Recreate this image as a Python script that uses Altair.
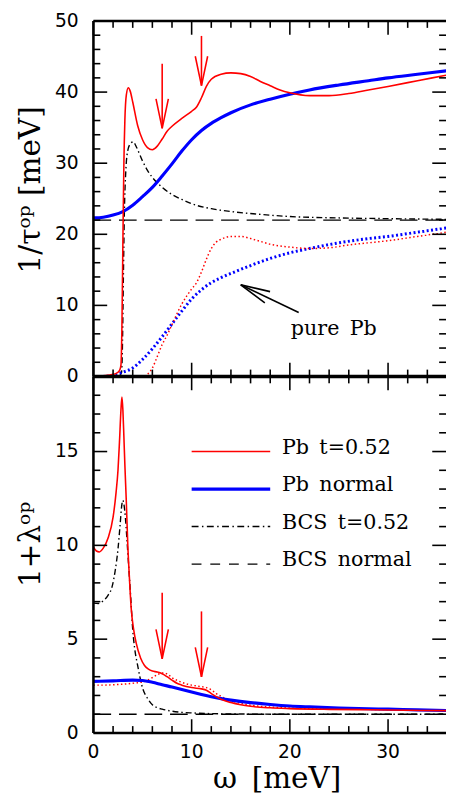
import altair as alt
import pandas as pd

# ---------------- data ----------------
# top panel: 1/tau^op [meV]
tau_pb_sc_w = [0, 1, 2, 2.5, 2.7, 2.8, 2.9, 3.0, 3.1, 3.2, 3.35, 3.55, 3.75, 4.0, 4.5, 5.0, 5.5, 6.0, 6.5, 7.0,
               7.5, 8, 9, 10, 10.5, 11, 11.5, 12, 13, 14, 15, 16, 17, 18, 19, 20, 22, 24, 26, 28, 30, 33, 36]
tau_pb_sc = [0.0, 0.1, 0.3, 0.6, 1.0, 1.6, 7, 19, 30, 36, 39.6, 40.6, 40.1, 38.6, 35.3, 33.3, 32.2, 31.9, 32.4, 33.4,
             34.5, 35.2, 36.3, 37.3, 37.9, 39.2, 40.8, 41.8, 42.5, 42.7, 42.6, 42.2, 41.5, 40.9, 40.3, 39.9, 39.5, 39.5,
             39.8, 40.3, 40.8, 41.6, 42.4]

tau_pb_n_w = [0, 1, 2, 3, 4, 5, 6, 7, 8, 9, 10, 11, 12, 13, 14, 16, 18, 20, 22, 25, 28, 30, 33, 36]
tau_pb_n = [22.3, 22.4, 22.7, 23.2, 24.1, 25.3, 26.6, 28.2, 29.9, 31.7, 33.3, 34.6, 35.6, 36.4, 37.1, 38.2, 39.0,
            39.7, 40.3, 41.0, 41.6, 42.0, 42.5, 43.0]

tau_bcs_sc_w = [0, 2.5, 2.85, 2.95, 3.05, 3.15, 3.3, 3.5, 3.8, 4.05, 4.4, 5, 5.5, 6, 7, 8, 9, 10, 12, 14, 17, 20,
                25, 30, 36]
tau_bcs_sc = [0, 0, 0.5, 4, 14, 23, 29, 31.8, 32.8, 33.0, 32.2, 30.3, 29.0, 28.0, 26.6, 25.6, 24.9, 24.3, 23.6,
              23.2, 22.8, 22.5, 22.3, 22.2, 22.1]

tau_bcs_n_w = [0, 36]
tau_bcs_n = [22, 22]

tau_pure_sc_w = [0, 5, 5.5, 6, 6.5, 7, 7.5, 8, 9, 10, 10.5, 11, 11.5, 12, 12.5, 13, 14, 15, 16, 17, 18, 20, 22, 24,
                 26, 28, 30, 33, 36]
tau_pure_sc = [0, 0, 0.3, 1.2, 2.8, 4.5, 5.8, 7.3, 10.2, 12.3, 13.2, 14.7, 16.5, 18.0, 18.9, 19.3, 19.7, 19.7, 19.4,
               19.0, 18.6, 18.2, 18.0, 18.1, 18.5, 18.8, 19.1, 19.7, 20.3]

tau_pure_n_w = [0, 1, 2, 3, 4, 5, 6, 7, 8, 9, 10, 11, 12, 13, 14, 16, 18, 20, 22, 25, 28, 30, 33, 36]
tau_pure_n = [0, 0.02, 0.2, 0.6, 1.2, 2.4, 3.9, 5.6, 7.4, 9.2, 10.9, 12.2, 13.2, 13.9, 14.5, 15.6, 16.6, 17.4, 18.0,
              18.8, 19.4, 19.7, 20.3, 20.9]

# bottom panel: 1 + lambda^op
lam_pb_sc_w = [0, 0.3, 0.6, 1, 1.5, 2, 2.3, 2.5, 2.65, 2.8, 2.9, 3.0, 3.1, 3.2, 3.35, 3.5, 3.65, 3.85, 4.1, 4.35,
               4.8, 5.2, 5.6, 6, 6.5, 7, 7.5, 8, 8.5, 9, 10, 11, 11.5, 12, 12.5, 13, 14, 15, 16, 18, 20, 24, 28, 32, 36]
lam_pb_sc = [9.9, 9.7, 9.65, 9.85, 10.4, 11.5, 12.8, 14.0, 15.5, 17.2, 17.9, 17.2, 15.8, 14.3, 12.3, 10.0, 8.4, 6.6,
             5.5, 4.8, 4.0, 3.6, 3.4, 3.3, 3.25, 3.16, 3.0, 2.82, 2.65, 2.55, 2.42, 2.35, 2.28, 2.1, 1.94, 1.8, 1.62,
             1.5, 1.42, 1.34, 1.3, 1.26, 1.24, 1.21, 1.19]

lam_pb_n_w = [0, 2, 4, 5, 6, 7, 8, 9, 10, 11, 12, 13, 14, 16, 18, 20, 22, 25, 28, 30, 33, 36]
lam_pb_n = [2.75, 2.78, 2.82, 2.80, 2.70, 2.57, 2.45, 2.32, 2.18, 2.05, 1.93, 1.83, 1.75, 1.62, 1.52, 1.44, 1.39,
            1.33, 1.29, 1.27, 1.23, 1.2]

lam_bcs_sc_w = [0, 0.5, 1, 1.5, 1.9, 2.2, 2.5, 2.7, 2.9, 3.0, 3.1, 3.25, 3.4, 3.6, 3.8, 4.0, 4.2, 4.5, 5.0, 5.5,
                6, 6.5, 7, 8, 9, 10, 12, 15, 20, 36]
lam_bcs_sc = [6.92, 6.9, 7.05, 7.35, 7.8, 8.6, 9.8, 11.0, 12.2, 12.4, 12.2, 11.5, 10.4, 8.8, 7.2, 5.5, 4.5, 3.6,
              2.4, 1.85, 1.5, 1.35, 1.27, 1.16, 1.1, 1.07, 1.03, 1.01, 1.0, 1.0]

lam_bcs_n_w = [0, 36]
lam_bcs_n = [1, 1]

lam_pure_sc_w = [0, 1, 2, 3, 4, 5, 5.5, 6, 6.5, 7, 7.5, 8, 9, 10, 11, 11.5, 12, 12.5, 13, 14, 15, 16, 18, 20, 24,
                 28, 32, 36]
lam_pure_sc = [2.55, 2.55, 2.57, 2.6, 2.65, 2.72, 2.8, 2.95, 3.1, 3.2, 3.15, 2.95, 2.7, 2.55, 2.47, 2.42, 2.3, 2.1,
               1.95, 1.72, 1.58, 1.48, 1.38, 1.33, 1.29, 1.26, 1.23, 1.2]

# red arrows marking features
arrow_w = [7, 11]
arrow_top_from = [44.0, 47.9]
arrow_top_to = [34.9, 40.9]
arrow_bot_from = [7.48, 6.48]
arrow_bot_to = [3.95, 2.99]

# "pure Pb" annotation arrow (tip, tail) and label
pure_tip = [15.0, 12.9]
pure_tail = [20.9, 9.0]
pure_label = ["pure\u2002Pb"]
pure_label_pos = [20.1, 5.9]

# legend
legend_names = ["Pb\u2002t=0.52", "Pb\u2002normal", "BCS\u2002t=0.52", "BCS\u2002normal"]
legend_y = [15, 13, 11, 9]
legend_x = [10, 18, 19.2]

# axis texts and tick values
x_title = "\u03c9\u2002[meV]"
top_title = "1/\u03c4\u1d52\u1d56 [meV]"
bot_title = "1+\u03bb\u1d52\u1d56"
x_ticks_major = [0, 10, 20, 30]
x_ticks_minor = [2, 4, 6, 8, 12, 14, 16, 18, 22, 24, 26, 28, 32, 34]
top_ticks_major = [0, 10, 20, 30, 40, 50]
top_ticks_minor = [v for v in range(0, 51, 2) if v % 10 != 0]
bot_ticks_major = [0, 5, 10, 15]
bot_ticks_minor = [v for v in range(0, 19) if v % 5 != 0]

# ---------------- styling / layout ----------------
RED = "#ff0000"
BLUE = "#0000ff"
SANS = "DejaVu Sans"
SERIF = "DejaVu Serif"
W = 359
H_TOP = 362
H_BOT = 363
H = H_TOP + H_BOT
X_DOM = [0, 35.9]
TOP_DOM = [0, 50]
BOT_DOM = [0, 19]
XS = alt.Scale(domain=X_DOM, nice=False, zero=False)
# both panels live in one view; each panel's y scale maps onto its own band of pixels
YS_TOP = alt.Scale(domain=TOP_DOM, range=[H_TOP, 0], nice=False, zero=False)
YS_BOT = alt.Scale(domain=BOT_DOM, range=[H, H_TOP], nice=False, zero=False)
MAJ, MIN = 14, 7
HEAD = "M -0.42 -2 L 0 0 L 0.42 -2"
TICK = {"left": "M 0 0 L 2 0", "right": "M 0 0 L -2 0", "bottom": "M 0 0 L 0 -2", "top": "M 0 0 L 0 2"}


def X(field):
    return alt.X(field, scale=XS, axis=None)


def Y(field, ys):
    return alt.Y(field, scale=ys, axis=None)


def line(w, v, ys, color, width, dash=None):
    kw = dict(color=color, strokeWidth=width, interpolate="monotone", clip=True)
    if dash:
        kw["strokeDash"] = dash
    return alt.Chart(pd.DataFrame({"w": w, "v": v})).mark_line(**kw).encode(x=X("w:Q"), y=Y("v:Q", ys))


def arrows(w, v0, v1, ys, color):
    d = pd.DataFrame({"w": w, "v0": v0, "v1": v1})
    shaft = alt.Chart(d).mark_rule(color=color, strokeWidth=1.6).encode(x=X("w:Q"), y=Y("v0:Q", ys), y2="v1:Q")
    head = alt.Chart(d).mark_point(shape=HEAD, size=900, filled=False, stroke=color, strokeWidth=1.6,
                                   opacity=1).encode(x=X("w:Q"), y=Y("v1:Q", ys))
    return [shaft, head]


def tick_layer(xs, ys_vals, ys, side, length):
    d = pd.DataFrame({"a": xs, "b": ys_vals})
    return alt.Chart(d).mark_point(shape=TICK[side], size=length * length, filled=False, stroke="black",
                                   strokeWidth=1.6, opacity=1).encode(x=X("a:Q"), y=Y("b:Q", ys))


def inward_ticks(ys, ydom, ymajor, yminor):
    out = []
    for vals, ln in ((ymajor, MAJ), (yminor, MIN)):
        out.append(tick_layer([X_DOM[0]] * len(vals), vals, ys, "left", ln))
        out.append(tick_layer([X_DOM[1]] * len(vals), vals, ys, "right", ln))
    for vals, ln in ((x_ticks_major, MAJ), (x_ticks_minor, MIN)):
        out.append(tick_layer(vals, [ydom[0]] * len(vals), ys, "bottom", ln))
        out.append(tick_layer(vals, [ydom[1]] * len(vals), ys, "top", ln))
    return out


def frame(ys, ydom, bottom_width):
    """Left, top and bottom frame lines of a panel (the right side runs off the page)."""
    left = alt.Chart(pd.DataFrame({"a": [X_DOM[0]], "b": [ydom[0]], "b2": [ydom[1]]})).mark_rule(
        color="black", strokeWidth=2.6).encode(x=X("a:Q"), y=Y("b:Q", ys), y2="b2:Q")
    topl = alt.Chart(pd.DataFrame({"a": [X_DOM[0]], "a2": [X_DOM[1]], "b": [ydom[1]]})).mark_rule(
        color="black", strokeWidth=2.6).encode(x=X("a:Q"), x2="a2:Q", y=Y("b:Q", ys))
    bottoml = alt.Chart(pd.DataFrame({"a": [X_DOM[0]], "a2": [X_DOM[1]], "b": [ydom[0]]})).mark_rule(
        color="black", strokeWidth=bottom_width).encode(x=X("a:Q"), x2="a2:Q", y=Y("b:Q", ys))
    return [left, topl, bottoml]


def y_labels(vals, ys):
    d = pd.DataFrame({"b": vals, "s": [str(v) for v in vals]})
    return alt.Chart(d).mark_text(font=SANS, fontSize=19, align="right", baseline="middle",
                                  color="black").encode(x=alt.value(-15), y=Y("b:Q", ys), text="s:N")


def x_labels(vals):
    d = pd.DataFrame({"a": vals, "s": [str(v) for v in vals]})
    return alt.Chart(d).mark_text(font=SANS, fontSize=19, align="center", baseline="top",
                                  color="black").encode(x=X("a:Q"), y=alt.value(H + 10), text="s:N")


def title_text(text, xpix, ypix, angle):
    d = pd.DataFrame({"s": [text]})
    return alt.Chart(d).mark_text(font=SERIF, fontSize=30, align="center", baseline="alphabetic", angle=angle,
                                  color="black").encode(x=alt.value(xpix), y=alt.value(ypix), text="s:N")


layers = []

# ---------------- top panel ----------------
layers += [
    line(tau_bcs_n_w, tau_bcs_n, YS_TOP, "black", 1.4, [18, 8]),
    line(tau_bcs_sc_w, tau_bcs_sc, YS_TOP, "black", 1.4, [6, 3, 1.5, 3]),
    line(tau_pure_n_w, tau_pure_n, YS_TOP, BLUE, 3, [2, 2.5]),
    line(tau_pure_sc_w, tau_pure_sc, YS_TOP, RED, 1.5, [1.5, 2.5]),
    line(tau_pb_n_w, tau_pb_n, YS_TOP, BLUE, 3.2),
    line(tau_pb_sc_w, tau_pb_sc, YS_TOP, RED, 1.6),
]
layers += frame(YS_TOP, TOP_DOM, 3.4)
layers += inward_ticks(YS_TOP, TOP_DOM, top_ticks_major, top_ticks_minor)
layers += arrows(arrow_w, arrow_top_from, arrow_top_to, YS_TOP, RED)
pa = pd.DataFrame({"w": [pure_tip[0]], "v": [pure_tip[1]], "w2": [pure_tail[0]], "v2": [pure_tail[1]]})
layers.append(alt.Chart(pa).mark_rule(color="black", strokeWidth=1.6).encode(
    x=X("w:Q"), y=Y("v:Q", YS_TOP), x2="w2:Q", y2="v2:Q"))
layers.append(alt.Chart(pa).mark_point(shape=HEAD, size=900, filled=False, stroke="black", strokeWidth=1.6,
                                       opacity=1, angle=115).encode(x=X("w:Q"), y=Y("v:Q", YS_TOP)))
pl = pd.DataFrame({"w": [pure_label_pos[0]], "v": [pure_label_pos[1]], "t": pure_label})
layers.append(alt.Chart(pl).mark_text(font=SERIF, fontSize=21, align="left", baseline="alphabetic",
                                      color="black").encode(x=X("w:Q"), y=Y("v:Q", YS_TOP), text="t:N"))
layers.append(y_labels(top_ticks_major, YS_TOP))
layers.append(title_text(top_title, -54, 172, 270))

# ---------------- bottom panel ----------------
layers += [
    line(lam_bcs_n_w, lam_bcs_n, YS_BOT, "black", 1.4, [18, 8]),
    line(lam_bcs_sc_w, lam_bcs_sc, YS_BOT, "black", 1.4, [6, 3, 1.5, 3]),
    line(lam_pure_sc_w, lam_pure_sc, YS_BOT, RED, 1.5, [1.5, 2.5]),
    line(lam_pb_n_w, lam_pb_n, YS_BOT, BLUE, 3.2),
    line(lam_pb_sc_w, lam_pb_sc, YS_BOT, RED, 1.6),
]
layers += frame(YS_BOT, BOT_DOM, 2.6)
layers += inward_ticks(YS_BOT, BOT_DOM, bot_ticks_major, bot_ticks_minor)
leg_styles = [(RED, 1.6, None), (BLUE, 3.2, None), ("black", 1.5, [7, 3.5, 1.5, 3.5]), ("black", 1.5, [10, 9])]
for name, yv, (col, wd, dash) in zip(legend_names, legend_y, leg_styles):
    d = pd.DataFrame({"w": [legend_x[0]], "w2": [legend_x[1]], "v": [yv]})
    kw = dict(color=col, strokeWidth=wd)
    if dash:
        kw["strokeDash"] = dash
    layers.append(alt.Chart(d).mark_rule(**kw).encode(x=X("w:Q"), x2="w2:Q", y=Y("v:Q", YS_BOT)))
ld = pd.DataFrame({"w": [legend_x[2]] * 4, "v": legend_y, "t": legend_names})
layers.append(alt.Chart(ld).mark_text(font=SERIF, fontSize=21, align="left", baseline="alphabetic", dy=2,
                                      color="black").encode(x=X("w:Q"), y=Y("v:Q", YS_BOT), text="t:N"))
layers += arrows(arrow_w, arrow_bot_from, arrow_bot_to, YS_BOT, RED)
layers.append(y_labels(bot_ticks_major, YS_BOT))
layers.append(x_labels(x_ticks_major))
layers.append(title_text(bot_title, -54, H_TOP + 171, 270))
layers.append(title_text(x_title, 187, H + 56, 0))

chart = alt.layer(*layers).resolve_scale(y="independent").configure_view(stroke=None).properties(
    width=W, height=H, autosize=alt.AutoSizeParams(type="none"),
    padding={"left": 87, "top": 6, "right": 0, "bottom": 60})

chart.save("out.html", embed_options={"renderer": "svg", "actions": False})
